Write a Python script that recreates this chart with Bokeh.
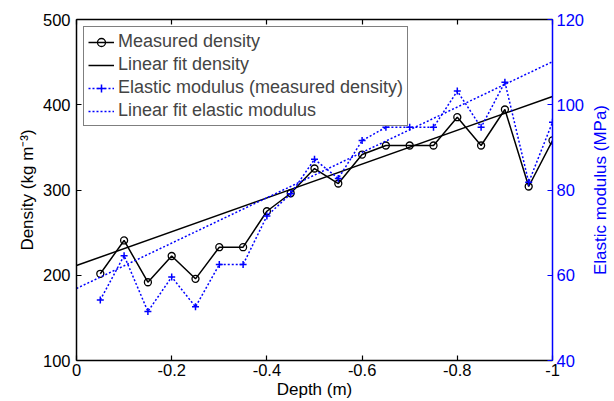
from bokeh.plotting import figure
from bokeh.layouts import row
from bokeh.models import Range1d, LinearAxis, FixedTicker, Legend, LegendItem
from bokeh.embed import file_html
from bokeh.resources import INLINE

# ---- data ----
depth = [-0.05, -0.10, -0.15, -0.20, -0.25, -0.30, -0.35, -0.40, -0.45, -0.50,
         -0.55, -0.60, -0.65, -0.70, -0.75, -0.80, -0.85, -0.90, -0.95, -1.00]
density = [201.7, 240.8, 191.8, 222.6, 195.8, 232.9, 232.9, 275.1, 296.2, 325.2,
           307.6, 341.6, 352.2, 352.2, 352.2, 385.4, 352.2, 394.4, 304.1, 358.1]
modulus = [54.2, 64.6, 51.5, 59.6, 52.6, 62.5, 62.5, 73.9, 79.1, 87.2,
           82.7, 91.6, 94.7, 94.7, 94.7, 103.2, 94.7, 105.3, 81.8, 95.9]
fit_depth = [0.0, -1.0]
fit_density = [211.4, 409.7]
fit_modulus = [56.9, 110.1]

x_ticks = [0, -0.2, -0.4, -0.6, -0.8, -1.0]
x_tick_labels = ["0", "-0.2", "-0.4", "-0.6", "-0.8", "-1"]
left_ticks = [100, 200, 300, 400, 500]
right_ticks = [40, 60, 80, 100, 120]

FONT = "Liberation Sans"
FS = "16.5px"
LFS = "17px"
BLUE = "#0000FF"

p = figure(width=587, height=401, output_backend="svg", toolbar_location=None,
           x_range=Range1d(0, -1), y_range=Range1d(100, 500),
           min_border_left=76, min_border_right=32, min_border_top=19,
           min_border_bottom=41)
p.extra_y_ranges = {"E": Range1d(40, 120)}
p.outline_line_color = None
p.xgrid.visible = False
p.ygrid.visible = False
p.background_fill_color = "white"
p.border_fill_color = "white"


def style_axis(ax, color="black"):
    ax.axis_line_color = color
    ax.axis_line_width = 1.5
    ax.major_tick_line_color = color
    ax.major_tick_line_width = 1.2
    ax.major_tick_in = 5
    ax.major_tick_out = 0
    ax.minor_tick_line_color = None
    ax.major_label_text_font = FONT
    ax.major_label_text_font_size = FS
    ax.major_label_text_color = color
    ax.axis_label_text_font = FONT
    ax.axis_label_text_font_size = LFS
    ax.axis_label_text_font_style = "normal"
    ax.axis_label_text_color = color


xa = p.xaxis[0]
style_axis(xa)
xa.ticker = FixedTicker(ticks=x_ticks)
xa.major_label_overrides = {t: s for t, s in zip(x_ticks, x_tick_labels)}
xa.major_label_standoff = 3
xa.major_label_text_line_height = 1.0
xa.axis_label = "Depth (m)"
xa.axis_label_text_line_height = 1.0
xa.axis_label_standoff = 1

ya = p.yaxis[0]
style_axis(ya)
ya.ticker = FixedTicker(ticks=left_ticks)
ya.major_label_standoff = 6
ya.axis_label = "Density (kg m\u207b\u00b3)"
ya.axis_label_standoff = 3

ra = LinearAxis(y_range_name="E", ticker=FixedTicker(ticks=right_ticks))
style_axis(ra, BLUE)
ra.major_label_standoff = 4
p.add_layout(ra, "right")

ta = LinearAxis(ticker=FixedTicker(ticks=x_ticks))
style_axis(ta)
ta.major_label_overrides = {t: "" for t in x_ticks}
ta.major_label_text_font_size = "0px"
ta.major_label_standoff = 0
p.add_layout(ta, "above")

# ---- glyphs ----
l1 = p.line(depth, density, line_color="black", line_width=1.5)
m1 = p.scatter(depth, density, marker="circle", size=7, line_color="black",
               fill_alpha=0, line_width=1.3)
f1 = p.line(fit_depth, fit_density, line_color="black", line_width=1.5)
l2 = p.line(depth, modulus, line_color=BLUE, line_width=1.5, line_dash="2 2",
            y_range_name="E")
m2 = p.scatter(depth, modulus, marker="cross", size=7, line_color=BLUE,
               line_width=1.5, y_range_name="E")
f2 = p.line(fit_depth, fit_modulus, line_color=BLUE, line_width=1.5,
            line_dash="2 2", y_range_name="E")

legend = Legend(items=[
    LegendItem(label="Measured density", renderers=[l1, m1]),
    LegendItem(label="Linear fit density", renderers=[f1]),
    LegendItem(label="Elastic modulus (measured density)", renderers=[l2, m2]),
    LegendItem(label="Linear fit elastic modulus", renderers=[f2]),
], location="top_left")
legend.margin = 7
legend.padding = 4
legend.spacing = 2
legend.label_height = 20
legend.glyph_height = 20
legend.glyph_width = 26
legend.label_standoff = 4
legend.label_text_font = FONT
legend.label_text_font_size = "18px"
legend.border_line_color = "black"
legend.border_line_width = 1.5
legend.background_fill_color = "white"
legend.background_fill_alpha = 1
p.add_layout(legend, "center")

# ---- narrow strip carrying the right-hand axis title (reads bottom-to-top) ----
p2 = figure(width=27, height=401, output_backend="svg", toolbar_location=None,
            x_range=Range1d(0, 1), y_range=Range1d(40, 120),
            min_border_left=20, min_border_right=0, min_border_top=19,
            min_border_bottom=41)
p2.xaxis.visible = False
p2.xgrid.visible = False
p2.ygrid.visible = False
p2.outline_line_color = None
p2.background_fill_color = "white"
p2.border_fill_color = "white"
ya2 = p2.yaxis[0]
ya2.ticker = FixedTicker(ticks=[])
ya2.axis_line_color = None
ya2.major_tick_line_color = None
ya2.minor_tick_line_color = None
ya2.major_tick_in = 0
ya2.major_tick_out = 0
ya2.major_label_text_font_size = "0px"
ya2.major_label_standoff = 0
ya2.axis_label = "Elastic modulus (MPa)"
ya2.axis_label_standoff = 0
ya2.axis_label_text_font = FONT
ya2.axis_label_text_font_size = LFS
ya2.axis_label_text_font_style = "normal"
ya2.axis_label_text_color = BLUE

layout = row(p, p2)
open("out.html", "w").write(file_html(layout, INLINE))
